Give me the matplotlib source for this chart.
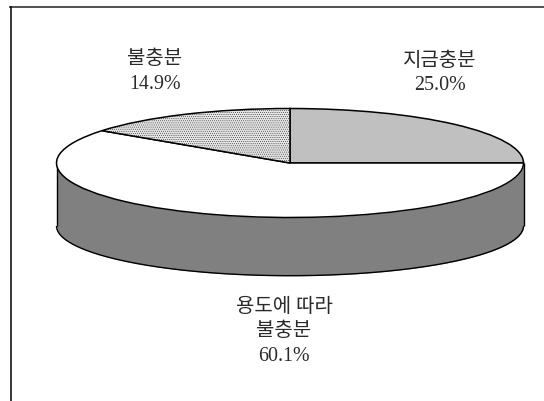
import numpy as np
import matplotlib
matplotlib.use("Agg")
import matplotlib.pyplot as plt
from matplotlib.transforms import Affine2D

labels = [["지금충분"], ["용도에 따라", "불충분"], ["불충분"]]
shares = [25.0, 60.1, 14.9]
colors = ["#c0c0c0", "#ffffff", "#e4e4e4"]
hatches = [None, None, "........"]
W, H = 544, 402
cx, cy, rx, ry = 290, 164, 233.5, 54.5
wall_cy, wall_ry = 227, 49.7

plt.rcParams["font.family"] = ["Liberation Serif", "Noto Sans CJK KR", "DejaVu Sans"]
plt.rcParams["hatch.linewidth"] = 0.25
plt.rcParams["hatch.color"] = "#a0a0a0"

fig = plt.figure(figsize=(W / 100, H / 100), dpi=100)
ax = fig.add_axes([0, 0, 1, 1])

# chart frame: only the top and left edges show in the reference
ax.plot([10, W], [8, 8], color="#505050", lw=1.4, zorder=1)
ax.plot([10.5, 10.5], [8, H], color="black", lw=1.1, zorder=1)

# side wall
t = np.linspace(0, np.pi, 200)
xs = cx + rx * np.cos(t)
ax.fill_between(xs, cy + ry * np.sin(t), wall_cy + wall_ry * np.sin(t),
                color="#808080", lw=0, zorder=1)
ax.plot(xs, wall_cy + wall_ry * np.sin(t), color="black", lw=1, zorder=2,
        solid_capstyle="butt")
for side in (-1, 1):
    ax.plot([cx + side * rx] * 2, [cy, wall_cy], color="black", lw=1, zorder=2,
            solid_capstyle="butt")

# top face: a circle pie squashed into an ellipse
wedges, _ = ax.pie(shares, colors=colors, startangle=90, counterclock=False, radius=1,
                   wedgeprops=dict(edgecolor="black", linewidth=1.1), frame=False)
squash = Affine2D().scale(rx, -ry).translate(cx, cy) + ax.transData
for w, h in zip(wedges, hatches):
    w.set_transform(squash)
    w.set_zorder(3)
    if h:
        w.set_hatch(h)
ax.set_xlim(0, W)
ax.set_ylim(H, 0)
ax.set_aspect("auto")
ax.axis("off")

# labels, placed line by line on their baselines
anchors = [(440, 65.5), (284, 312), (155, 64.5)]
line_step = 24.5
for lab, s, (x, y) in zip(labels, shares, anchors):
    for i, line in enumerate(lab + [f"{s:.1f}%"]):
        ax.text(x, y + i * line_step, line, ha="center", va="baseline", fontsize=14.4,
                color="#2a2a2a", zorder=5)

fig.savefig("out.png", dpi=100, facecolor="white")
